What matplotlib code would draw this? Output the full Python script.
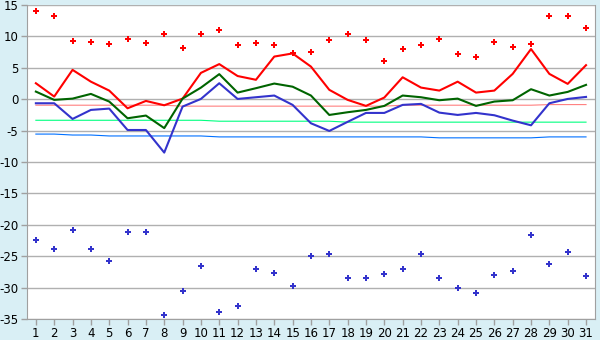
import matplotlib
matplotlib.use("Agg")
import matplotlib.pyplot as plt

# jours du mois
jours = list(range(1, 32))

# extremes absolus (losanges)
record_max = [14.0, 13.2, 9.25, 9.1, 8.8, 9.57, 8.9, 10.4, 8.1, 10.4,
              11.0, 8.66, 8.9, 8.6, 7.3, 7.5, 9.4, 10.4, 9.4, 6.06,
              7.97, 8.6, 9.57, 7.2, 6.7, 9.1, 8.3, 8.77, 13.2, 13.2, 11.3]
record_min = [-22.5, -23.9, -20.9, -23.9, -25.8, -21.2, -21.2, -34.4, -30.6, -26.5,
              -33.9, -33.0, -27.1, -27.7, -29.8, -24.9, -24.7, -28.5, -28.5, -27.9,
              -27.1, -24.7, -28.5, -30.1, -30.9, -28.05, -27.4, -21.7, -26.3, -24.4, -28.2]

# temperatures du mois
tmax = [2.55, 0.43, 4.68, 2.8, 1.38, -1.44, -0.27, -0.96, 0.1, 4.2,
        5.6, 3.7, 3.1, 6.8, 7.3, 5.2, 1.5, -0.1, -1.06, 0.27,
        3.5, 1.86, 1.38, 2.8, 1.06, 1.38, 4.04, 8.0, 4.04, 2.45, 5.43]
tmoy = [1.22, -0.1, 0.1, 0.85, -0.37, -3.03, -2.6, -4.6, 0.1, 1.85,
        4.0, 1.06, 1.76, 2.5, 2.0, 0.59, -2.5, -2.07, -1.7, -1.06,
        0.59, 0.32, -0.16, 0.1, -1.06, -0.37, -0.16, 1.6, 0.59, 1.17, 2.29]
tmin = [-0.64, -0.64, -3.14, -1.7, -1.49, -4.9, -4.9, -8.5, -1.17, 0.05,
        2.55, 0.05, 0.32, 0.59, -0.9, -3.83, -5.05, -3.6, -2.18, -2.18,
        -0.9, -0.74, -2.13, -2.5, -2.18, -2.55, -3.4, -4.15, -0.64, 0.05, 0.37]

# normales
norm_max = [-0.95] * 8 + [-1.1] * 12 + [-0.95] * 8 + [-0.85] * 3
norm_moy = [-3.35] * 10 + [-3.5] * 7 + [-3.65] * 14
norm_min = [-5.55] * 2 + [-5.7] * 2 + [-5.85] * 6 + [-6.0] * 12 + [-6.15] * 6 + [-6.0] * 3

plt.rcParams['axes.unicode_minus'] = False
plt.rcParams['font.family'] = 'DejaVu Sans'

fig = plt.figure(figsize=(6, 3.4), dpi=100, facecolor='#d9eff5')
ax = fig.add_axes([0.0445, 0.062, 0.9475, 0.923])
ax.set_facecolor('white')

ax.plot(jours, norm_max, color='#ff8080', lw=0.8)
ax.plot(jours, norm_moy, color='#00ff80', lw=0.8)
ax.plot(jours, norm_min, color='#0070ff', lw=0.8)

ax.plot(jours, tmax, color='#ff0000', lw=1.5)
ax.plot(jours, tmoy, color='#006400', lw=1.5)
ax.plot(jours, tmin, color='#3333cc', lw=1.5)

ax.plot(jours, record_max, ls='none', marker='P', ms=4.5, color='#ff0000', mew=0)
ax.plot(jours, record_min, ls='none', marker='P', ms=4.5, color='#3333cc', mew=0)

ax.set_xlim(0.5, 31.5)
ax.set_ylim(-35, 15)
ax.set_xticks(jours)
ax.set_yticks(range(-35, 16, 5))
ax.yaxis.grid(True, color='#b0b0b0', lw=1)
ax.set_axisbelow(True)
ax.tick_params(labelsize=8.5, length=4, width=1, color='#a0a0a0', pad=2)
for s in ax.spines.values():
    s.set_color('#a0a0a0')
ax.spines['top'].set_visible(False)

fig.savefig('out.png', dpi=100, facecolor=fig.get_facecolor())
